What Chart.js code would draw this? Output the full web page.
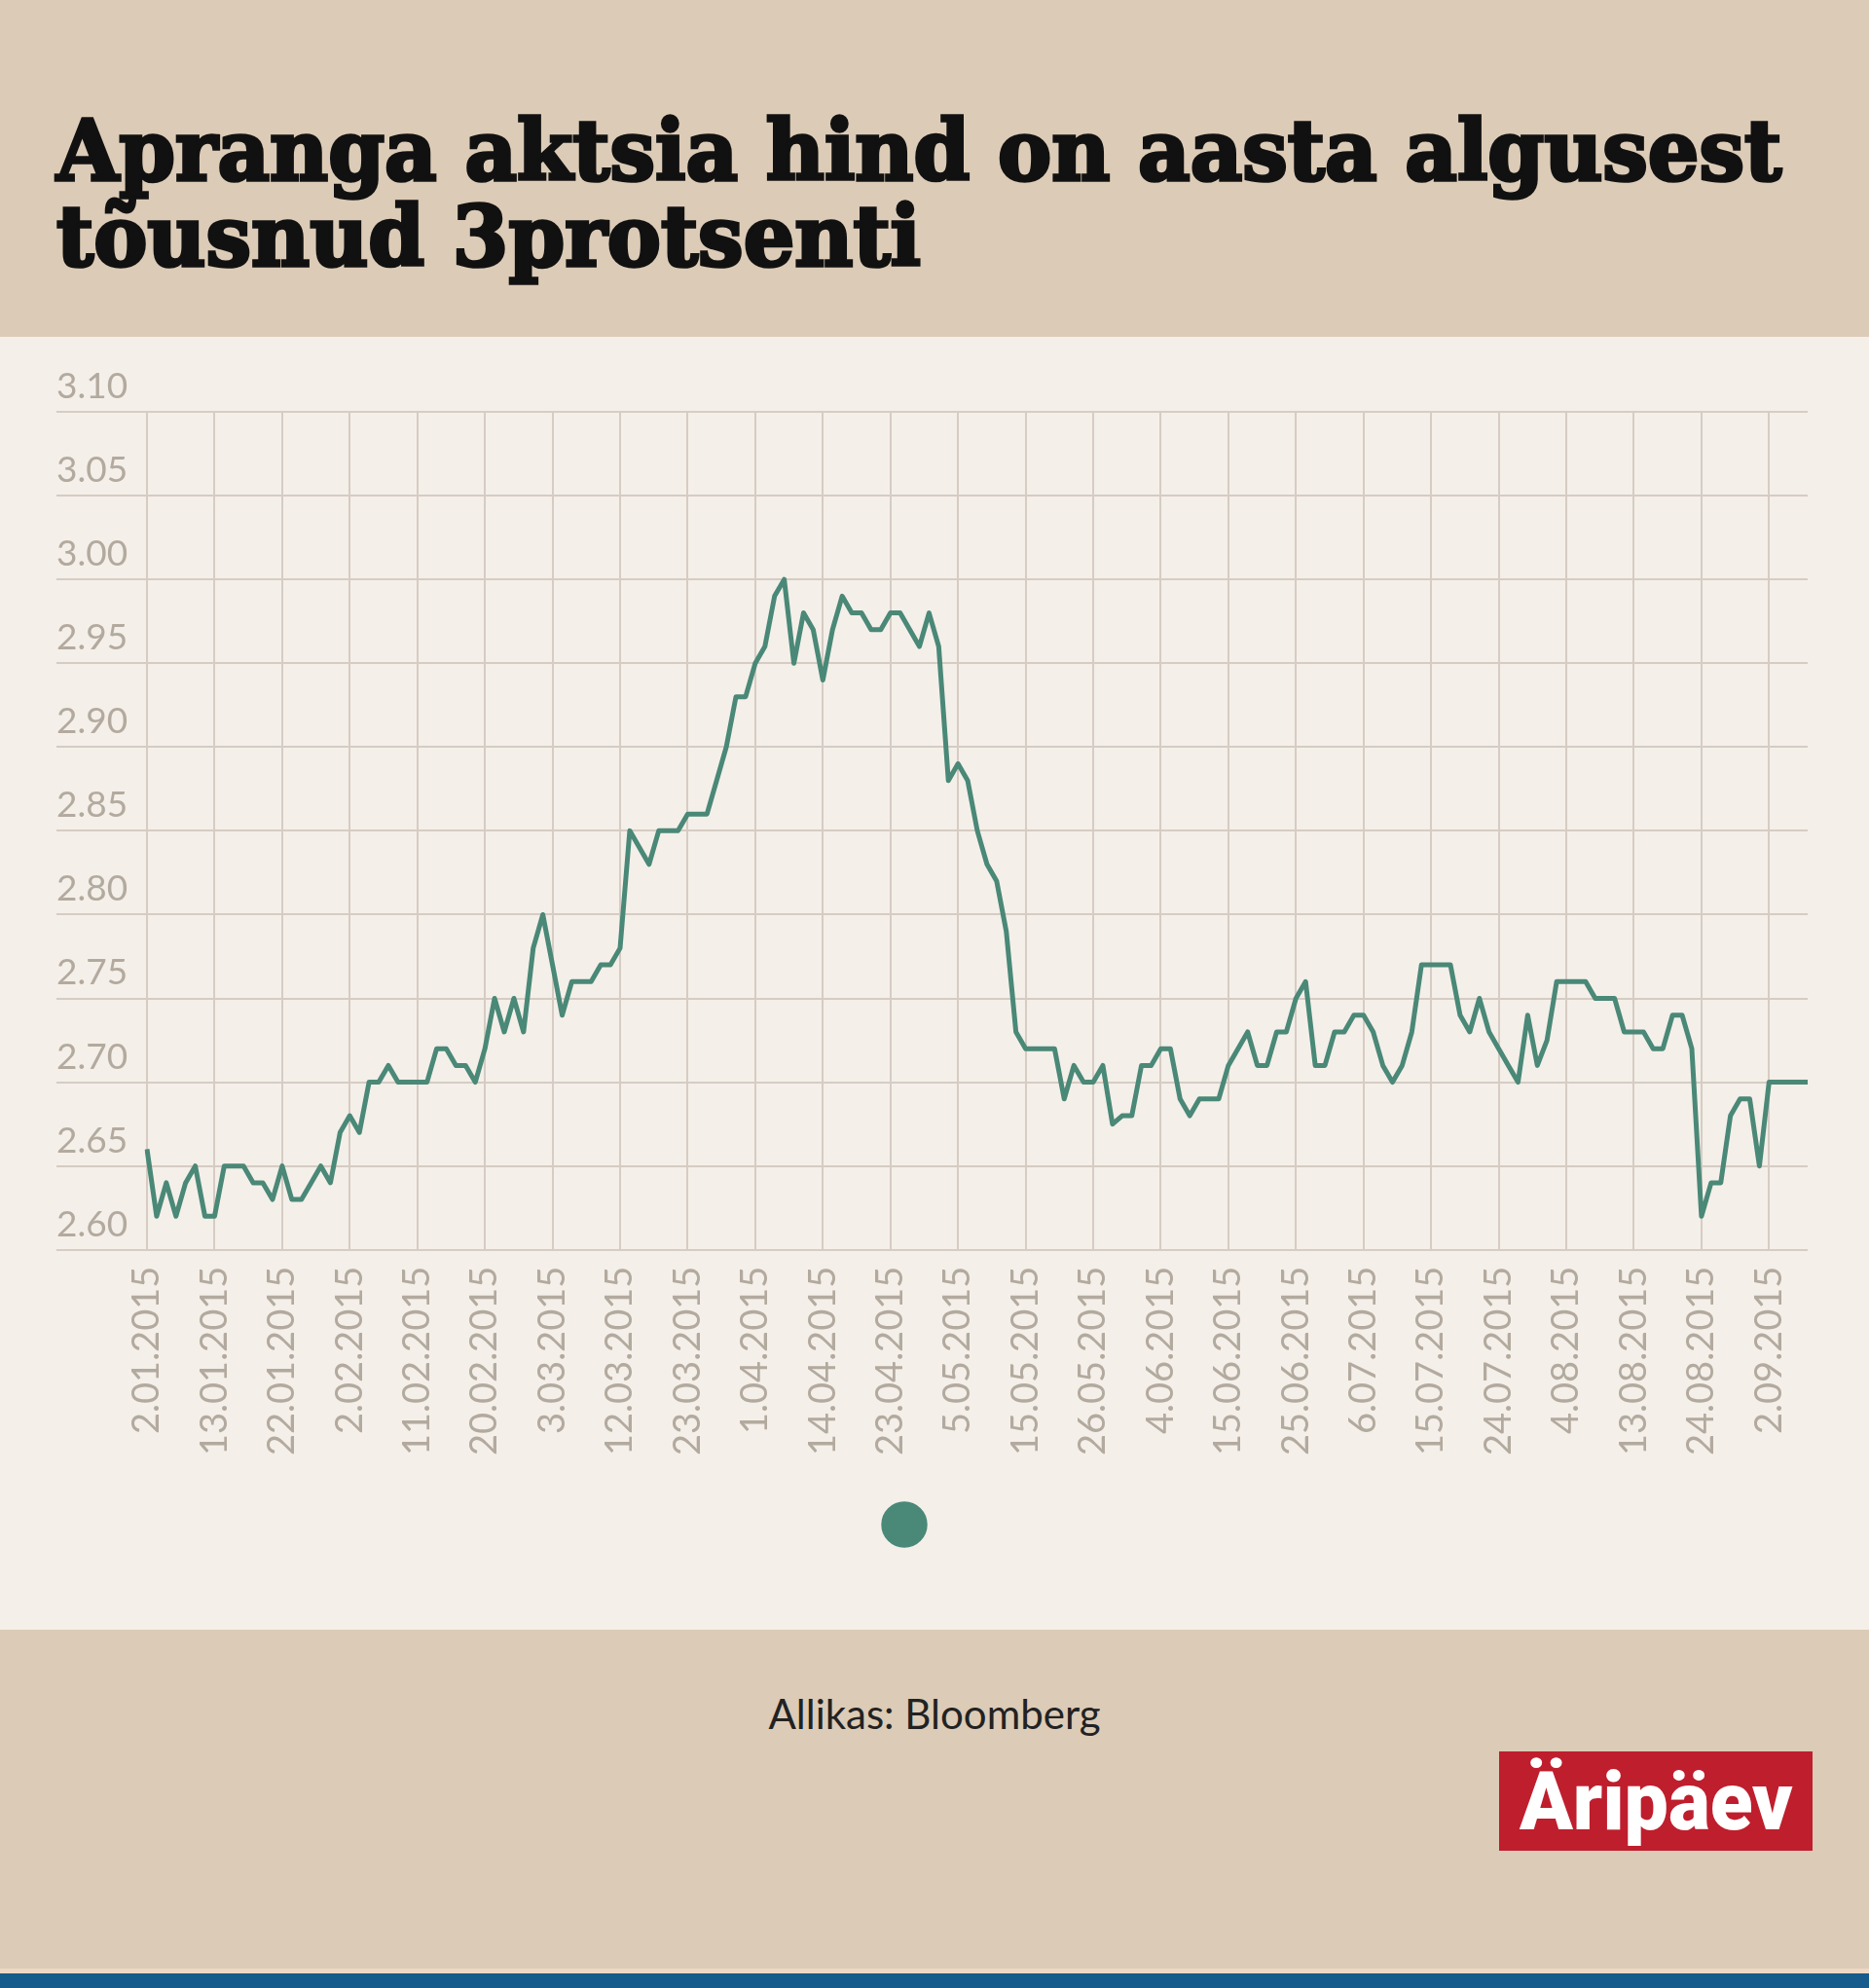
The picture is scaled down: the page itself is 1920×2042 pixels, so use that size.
<!DOCTYPE html>
<html>
<head>
<meta charset="utf-8">
<script src="https://cdn.jsdelivr.net/npm/chart.js@4.4.1/dist/chart.umd.min.js"></script>
<style>
html,body{margin:0;padding:0;}
body{width:1920px;height:2042px;position:relative;background:#dccbb6;overflow:hidden;font-family:Lato,sans-serif;}
#header{position:absolute;left:0;top:0;width:1920px;height:346px;background:#dccbb6;}
#panel{position:absolute;left:0;top:346px;width:1920px;height:1328px;background:#f4efe9;}
#footer{position:absolute;left:0;top:1674px;width:1920px;height:348px;background:#dccbb6;}
#strip{position:absolute;left:0;top:2022px;width:1920px;height:5px;background:#eed8c5;}
#bar{position:absolute;left:0;top:2027px;width:1920px;height:15px;background:#175b8c;}
.title{position:absolute;left:58px;font-family:'DejaVu Serif',serif;font-weight:bold;font-size:86px;line-height:86px;color:#111;white-space:nowrap;transform-origin:0 0;-webkit-text-stroke:3.5px #111;}
#t1{top:112px;}
#t2{top:200px;}
#chartwrap{position:absolute;left:58px;top:347px;width:1799px;height:1286px;}
#source{position:absolute;left:0;top:1739px;width:1920px;text-align:center;font-family:Lato,sans-serif;font-size:42px;line-height:42px;color:#222;}
#logo{position:absolute;left:1540px;top:1799px;width:322px;height:102px;background:#bf1e2d;}
#logotext{position:absolute;left:21px;top:10px;font-family:Roboto,'Liberation Sans',sans-serif;font-weight:900;font-size:84px;line-height:84px;color:#fff;white-space:nowrap;transform-origin:0 0;}
</style>
</head>
<body>
<div id="header"></div>
<div id="panel"></div>
<div id="footer"></div>
<div id="strip"></div>
<div id="bar"></div>
<div class="title" id="t1">Apranga aktsia hind on aasta algusest</div>
<div class="title" id="t2">tõusnud 3protsenti</div>
<div id="chartwrap"><canvas id="c"></canvas></div>
<div id="source">Allikas: Bloomberg</div>
<div id="logo"><div id="logotext">Äripäev</div></div>
<script>
// ---- data ----
const tickLabels = ['2.01.2015','13.01.2015','22.01.2015','2.02.2015','11.02.2015','20.02.2015','3.03.2015','12.03.2015','23.03.2015','1.04.2015','14.04.2015','23.04.2015','5.05.2015','15.05.2015','26.05.2015','4.06.2015','15.06.2015','25.06.2015','6.07.2015','15.07.2015','24.07.2015','4.08.2015','13.08.2015','24.08.2015','2.09.2015'];
const tickEvery = 7; // trading days between labelled dates
const prices = [
  2.66, 2.62, 2.64, 2.62, 2.64, 2.65, 2.62, 2.62, 2.65, 2.65,
  2.65, 2.64, 2.64, 2.63, 2.65, 2.63, 2.63, 2.64, 2.65, 2.64,
  2.67, 2.68, 2.67, 2.70, 2.70, 2.71, 2.70, 2.70, 2.70, 2.70,
  2.72, 2.72, 2.71, 2.71, 2.70, 2.72, 2.75, 2.73, 2.75, 2.73,
  2.78, 2.80, 2.77, 2.74, 2.76, 2.76, 2.76, 2.77, 2.77, 2.78,
  2.85, 2.84, 2.83, 2.85, 2.85, 2.85, 2.86, 2.86, 2.86, 2.88,
  2.90, 2.93, 2.93, 2.95, 2.96, 2.99, 3.00, 2.95, 2.98, 2.97,
  2.94, 2.97, 2.99, 2.98, 2.98, 2.97, 2.97, 2.98, 2.98, 2.97,
  2.96, 2.98, 2.96, 2.88, 2.89, 2.88, 2.85, 2.83, 2.82, 2.79,
  2.73, 2.72, 2.72, 2.72, 2.72, 2.69, 2.71, 2.70, 2.70, 2.71,
  2.675, 2.68, 2.68, 2.71, 2.71, 2.72, 2.72, 2.69, 2.68, 2.69,
  2.69, 2.69, 2.71, 2.72, 2.73, 2.71, 2.71, 2.73, 2.73, 2.75,
  2.76, 2.71, 2.71, 2.73, 2.73, 2.74, 2.74, 2.73, 2.71, 2.70,
  2.71, 2.73, 2.77, 2.77, 2.77, 2.77, 2.74, 2.73, 2.75, 2.73,
  2.72, 2.71, 2.70, 2.74, 2.71, 2.725, 2.76, 2.76, 2.76, 2.76,
  2.75, 2.75, 2.75, 2.73, 2.73, 2.73, 2.72, 2.72, 2.74, 2.74,
  2.72, 2.62, 2.64, 2.64, 2.68, 2.69, 2.69, 2.65, 2.70, 2.70,
  2.70, 2.70, 2.70
];
const yMin = 2.60, yMax = 3.10, yStep = 0.05;

// ---- styles ----
const lineColor = '#4a8877';
const gridColor = '#d6ccc3';
const tickColor = '#b3aa9f';

const categories = prices.map((_, i) => (i % tickEvery === 0 ? (tickLabels[i / tickEvery] || '') : ''));

function fitText(el, target) {
  el.style.transform = 'none';
  const w = el.offsetWidth;
  const s = target / w;
  el.style.transform = 'scaleX(' + s + ')';
  return s;
}

function build() {
  const t1 = document.getElementById('t1');
  const t2 = document.getElementById('t2');
  const s = fitText(t1, 1772);
  t2.style.transform = 'scaleX(' + s + ')';
  fitText(document.getElementById('logotext'), 281);

  new Chart(document.getElementById('c'), {
    type: 'line',
    data: {
      labels: categories,
      datasets: [{
        label: '',
        data: prices,
        borderColor: lineColor,
        backgroundColor: lineColor,
        borderWidth: 5,
        pointRadius: 0,
        pointHoverRadius: 0,
        pointStyle: 'circle',
        tension: 0,
        borderJoinStyle: 'round',
        fill: false
      }]
    },
    options: {
      responsive: true,
      maintainAspectRatio: false,
      animation: false,
      events: [],
      layout: { padding: { top: 76, left: 0, right: 0, bottom: 0 } },
      plugins: {
        tooltip: { enabled: false },
        legend: {
          display: true,
          position: 'bottom',
          align: 'center',
          labels: {
            usePointStyle: true,
            pointStyle: 'circle',
            boxWidth: 30,
            boxHeight: 30,
            padding: -3,
            color: 'rgba(0,0,0,0)',
            font: { size: 114, family: 'Lato' }
          }
        }
      },
      scales: {
        x: {
          type: 'category',
          offset: false,
          afterFit: (scale) => { scale.paddingRight = 0; scale.paddingLeft = 0; },
          grid: {
            display: true,
            drawTicks: false,
            lineWidth: 2,
            color: gridColor
          },
          border: { display: true, color: gridColor, width: 2 },
          ticks: {
            autoSkip: false,
            maxRotation: 90,
            minRotation: 90,
            padding: 17,
            color: tickColor,
            font: { family: 'Lato', size: 38 },
            callback: (v, i) => (categories[i] ? categories[i] : null)
          }
        },
        y: {
          min: yMin,
          max: yMax,
          afterFit: (scale) => { scale.width = 93; },
          grid: {
            color: gridColor,
            lineWidth: 2,
            drawTicks: true,
            tickLength: 93,
            tickColor: gridColor,
            tickWidth: 2
          },
          border: { display: false },
          ticks: {
            stepSize: yStep,
            crossAlign: 'far',
            labelOffset: -26,
            color: tickColor,
            font: { family: 'Lato', size: 37 },
            callback: (v) => Number(v).toFixed(2)
          }
        }
      }
    }
  });
}

Promise.all([
  document.fonts.load('36px Lato'),
  document.fonts.load('bold 86px "DejaVu Serif"'),
  document.fonts.load('900 84px Roboto')
]).catch(() => {}).then(build);
</script>
</body>
</html>
